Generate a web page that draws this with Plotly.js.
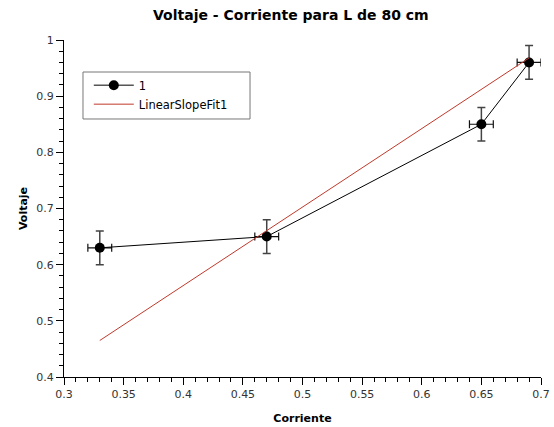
<!DOCTYPE html>
<html><head><meta charset="utf-8">
<script src="https://cdn.plot.ly/plotly-3.0.1.min.js"></script>
<style>body{margin:0;background:#fff}#c{width:554px;height:427px}</style>
</head><body><div id="c"></div>
<script>
const corriente = [0.33, 0.47, 0.65, 0.69];
const voltaje = [0.63, 0.65, 0.85, 0.96];
const errCorriente = [0.01, 0.01, 0.01, 0.01];
const errVoltaje = [0.03, 0.03, 0.03, 0.03];
const fitX = [0.33, 0.69];
const fitY = [0.465, 0.968];
const seriesName = '1';
const fitName = 'LinearSlopeFit1';

const traces = [
  {x: corriente, y: voltaje, name: seriesName, type: 'scatter', mode: 'lines+markers',
   line: {color: '#000', width: 1}, marker: {color: '#000', size: 10},
   error_y: {type: 'data', array: errVoltaje, visible: true, color: '#444', thickness: 1.5, width: 4},
   error_x: {type: 'data', array: errCorriente, visible: true, color: '#111', thickness: 1.2, width: 4}},
  {x: fitX, y: fitY, name: fitName, type: 'scatter', mode: 'lines',
   line: {color: '#c0392b', width: 1}}
];
const font = {family: 'DejaVu Sans, Verdana, sans-serif', size: 11, color: '#333'};
const layout = {
  width: 554, height: 427,
  margin: {l: 64, r: 13, t: 40, b: 50},
  paper_bgcolor: '#fff', plot_bgcolor: '#fff',
  font: font,
  showlegend: true,
  title: {text: '<b>Voltaje - Corriente para L de 80 cm</b>', x: 0.525, xanchor: 'center', y: 0.965, yanchor: 'middle',
          font: {family: 'DejaVu Sans, Verdana, sans-serif', size: 14, color: '#000'}},
  xaxis: {range: [0.3, 0.7], dtick: 0.05, tick0: 0.3, showgrid: false, zeroline: false,
          showline: true, linecolor: '#000', linewidth: 1, ticks: 'outside', ticklen: 7, tickcolor: '#000',
          minor: {dtick: 0.01, ticks: 'outside', ticklen: 4, tickcolor: '#000', showgrid: false},
          tickfont: {size: 11, color: '#333'},
          title: {text: '<b>Corriente</b>', standoff: 14, font: {size: 11, color: '#000'}}},
  yaxis: {range: [0.4, 1], dtick: 0.1, tick0: 0.4, showgrid: false, zeroline: false,
          showline: true, linecolor: '#000', linewidth: 1, ticks: 'outside', ticklen: 7, tickcolor: '#000',
          minor: {dtick: 0.02, ticks: 'outside', ticklen: 4, tickcolor: '#000', showgrid: false},
          tickfont: {size: 11, color: '#333'},
          title: {text: '<b>Voltaje</b>', standoff: 6, font: {size: 11, color: '#000'}}},
  shapes: [{type: 'rect', xref: 'paper', yref: 'paper', x0: 0.0398, x1: 0.39, y0: 0.7656, y1: 0.905,
            line: {color: '#777', width: 1}, fillcolor: 'rgba(0,0,0,0)', layer: 'below'}],
  legend: {x: 0.052, y: 0.909, xanchor: 'left', yanchor: 'top', borderwidth: 0,
           bgcolor: 'rgba(0,0,0,0)', font: {size: 11.5, color: '#000'}, itemwidth: 40, tracegroupgap: 0}
};
Plotly.newPlot('c', traces, layout, {displayModeBar: false, staticPlot: true});
</script></body></html>
